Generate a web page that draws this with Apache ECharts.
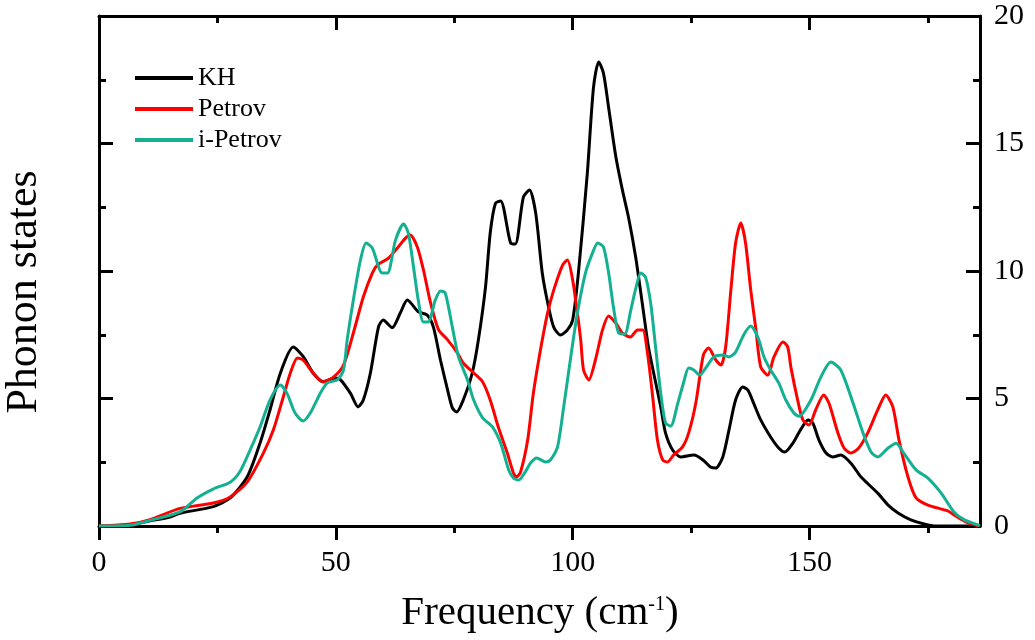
<!DOCTYPE html>
<html><head><meta charset="utf-8">
<script src="https://cdn.jsdelivr.net/npm/echarts@6/dist/echarts.min.js"></script>
<style>html,body{margin:0;padding:0;background:#fff}#c{width:1035px;height:640px}</style>
</head><body><div id="c"></div>
<script>
// ---- data ----
const khX = [0,6.6,10.8,15.0,17.1,24.1,27.7,31.3,34.0,36.1,38.3,41.0,43.1,45.2,47.3,49.9,50.9,53.1,54.7,55.8,57.3,59.0,60.0,61.9,63.6,65.1,67.4,69.3,70.6,72.1,73.6,74.6,75.5,76.9,78.8,80.1,81.6,82.6,83.7,84.8,86.9,87.9,89.6,90.9,92.2,93.6,94.9,96.0,97.4,98.9,100.0,101.2,103.1,104.4,105.5,106.5,107.6,109.1,110.5,111.8,113.3,114.8,116.0,117.1,118.6,119.6,121.1,122.8,125.6,127.5,129.1,130.2,131.7,133.0,134.4,135.9,137.0,138.2,139.7,141.8,143.5,144.8,146.5,148.2,149.7,150.7,152.0,153.5,154.9,156.6,158.7,160.9,164.4,166.6,168.7,171.4,174.2,176.7,186];
const khY = [0,0.05,0.2,0.35,0.5,0.76,1.1,1.93,3.25,4.55,6.0,7.02,6.65,6.0,5.66,5.8,5.75,5.2,4.67,4.94,6.0,7.8,8.08,7.78,8.35,8.86,8.4,8.27,7.8,6.5,5.33,4.63,4.47,4.94,6.0,7.3,9.37,11.5,12.66,12.75,11.1,11.06,12.9,13.18,12.27,9.9,8.6,7.8,7.49,7.69,8.08,9.9,13.84,17.2,18.2,17.76,16.4,14.5,13.18,12.1,10.55,8.6,7.02,6.0,4.67,3.65,2.98,2.71,2.78,2.59,2.31,2.27,2.71,3.76,4.94,5.45,5.33,4.82,4.16,3.49,3.06,2.9,3.25,3.8,4.16,4.04,3.37,2.86,2.71,2.78,2.47,1.92,1.29,0.82,0.51,0.24,0.08,0,0];

const petrovX = [0,6.6,10.8,17.1,24.1,27.7,31.3,34.7,36.8,38.9,40.4,41.9,43.1,45.2,47.3,49.5,51.6,53.7,55.8,57.7,58.8,61.1,63.0,64.7,65.7,67.2,68.5,70.0,71.7,73.6,75.7,76.9,79.1,81.0,82.6,84.3,86.2,87.5,88.1,89.0,90.5,91.7,93.2,94.7,96.0,97.9,98.9,100.0,101.0,101.7,102.3,103.4,104.8,106.3,107.6,109.1,110.5,112.2,113.7,114.8,115.8,116.9,117.9,119.0,120.0,121.3,123.2,124.5,126.0,127.6,128.7,130.2,131.3,132.3,133.4,134.4,135.5,136.5,137.6,138.7,139.7,141.2,142.5,144.4,145.4,146.1,147.5,148.6,149.9,151.3,153.0,154.1,156.0,157.3,158.7,160.4,162.3,164.4,166.1,167.6,168.9,170.8,172.5,175.0,179.2,180.9,183.5,185.8];
const petrovY = [0,0.08,0.25,0.69,0.9,1.14,1.73,2.86,3.76,5.06,6.0,6.59,6.51,6.0,5.65,5.84,6.3,7.57,8.98,9.92,10.24,10.5,10.9,11.29,11.41,10.94,10.04,8.75,7.69,7.3,6.78,6.39,6.0,5.65,4.94,3.88,2.86,2.08,1.92,2.12,3.37,5.2,6.9,8.35,9.25,10.24,10.43,9.65,8.35,7.3,6.12,5.73,6.51,7.69,8.24,7.96,7.57,7.41,7.69,7.69,6.78,5.06,3.37,2.59,2.51,2.78,3.1,3.65,4.82,6.71,6.98,6.51,6.31,7.02,9.25,11.1,11.88,11.1,9.25,7.69,6.24,5.92,6.63,7.22,7.02,6.2,4.94,4.16,3.96,4.55,5.14,4.82,3.65,3.06,2.86,3.06,3.65,4.55,5.14,4.67,3.37,1.92,1.1,0.82,0.59,0.39,0.12,0];

const iPetrovX = [0,6.6,10.8,17.1,20.7,24.1,27.7,29.8,31.9,34.0,36.1,38.3,39.7,41.4,43.1,44.6,46.7,48.2,50.3,51.6,52.4,53.7,55.2,56.4,57.7,59.8,60.9,62.6,64.3,65.3,66.4,67.4,68.5,69.5,71.0,72.1,73.1,74.6,75.9,77.8,79.1,81.0,83.1,84.8,86.5,87.5,88.6,90.0,91.1,92.4,94.3,95.3,96.8,98.1,99.6,101.0,102.7,104.2,105.3,106.5,107.6,108.6,109.7,111.0,112.2,113.3,114.4,115.4,116.5,117.5,118.6,119.6,120.7,122.2,123.4,124.5,125.6,126.8,128.1,129.8,131.7,133.0,134.4,136.1,137.6,139.1,140.4,141.8,143.5,145.0,146.7,147.8,150.3,152.4,154.5,156.6,159.2,161.3,163.0,164.4,166.6,168.3,169.9,172.5,175.0,177.8,180.5,182.7,185.6,186];
const iPetrovY = [0,0.03,0.22,0.55,1.1,1.45,1.72,2.15,2.98,3.88,4.94,5.53,5.2,4.43,4.12,4.43,5.2,5.61,5.73,6.1,7.3,8.86,10.43,11.1,10.9,9.92,9.92,11.21,11.84,11.49,10.16,8.86,8.0,8.0,8.86,9.22,9.14,7.8,6.63,5.73,4.94,4.24,3.88,3.25,2.2,1.88,1.8,2.12,2.47,2.67,2.51,2.59,3.1,4.67,6.63,8.35,9.92,10.71,11.1,10.94,9.92,8.6,7.57,7.53,8.4,9.3,9.92,9.75,8.7,7.02,5.2,4.04,3.92,4.82,5.61,6.2,6.12,5.92,6.2,6.63,6.71,6.63,6.82,7.49,7.84,7.41,6.63,6.12,5.61,4.94,4.43,4.3,4.94,5.84,6.43,6.12,4.82,3.65,2.9,2.71,3.06,3.25,2.86,2.2,1.88,1.29,0.55,0.24,0.04,0];

const seriesNames = ['KH', 'Petrov', 'i-Petrov'];
const xMajorTicks = [0, 50, 100, 150];
const xMinorTicks = [25, 75, 125, 175];
const yTickLabels = [0, 5, 10, 15, 20];
// -------------------------------------

const FONT = 'Liberation Serif';
const XMIN = 0, XMAX = 186, YMIN = 0, YMAX = 20;
function pairs(xs, ys) { return xs.map((x, i) => [x, ys[i]]); }

function xAx(pos, vals, len, inside, withLabels, showLine) {
  return {
    type: 'value', min: XMIN, max: XMAX, position: pos,
    axisLine: { show: showLine, onZero: false, lineStyle: { color: '#000', width: 3 } },
    axisTick: { show: true, customValues: vals, length: len, inside: inside, lineStyle: { color: '#000', width: 3 } },
    axisLabel: withLabels ? { show: true, customValues: vals, fontSize: 30, fontFamily: FONT, color: '#000', margin: 22 } : { show: false },
    splitLine: { show: false }
  };
}
function yAx(pos, withLabels) {
  return {
    type: 'value', min: YMIN, max: YMAX, interval: yTickLabels[1] - yTickLabels[0], position: pos,
    axisLine: { show: true, onZero: false, lineStyle: { color: '#000', width: 3 } },
    axisTick: { show: true, inside: true, length: 14, lineStyle: { color: '#000', width: 3 } },
    minorTick: { show: true, splitNumber: 2, length: 7, lineStyle: { color: '#000', width: 3 } },
    axisLabel: withLabels ? { show: true, fontSize: 30, fontFamily: FONT, color: '#000', margin: 14 } : { show: false },
    splitLine: { show: false }, minorSplitLine: { show: false }
  };
}

const colors = ['#000000', '#ff0000', '#14b092'];
const datas = [pairs(khX, khY), pairs(petrovX, petrovY), pairs(iPetrovX, iPetrovY)];

const chart = echarts.init(document.getElementById('c'), null, { renderer: 'canvas' });
chart.setOption({
  backgroundColor: '#fff',
  animation: false,
  grid: { left: 99, right: 55, top: 16, bottom: 114, containLabel: false },
  xAxis: [
    xAx('bottom', xMajorTicks, 14, false, true, true),
    xAx('top', xMajorTicks, 14, true, false, true),
    xAx('bottom', xMinorTicks, 7, false, false, false),
    xAx('top', xMinorTicks, 7, true, false, false)
  ],
  yAxis: [yAx('left', false), yAx('right', true)],
  legend: {
    orient: 'vertical', left: 135, top: 65, padding: 0, itemWidth: 58, itemHeight: 4, itemGap: 5,
    icon: 'rect', selectedMode: false,
    textStyle: { fontSize: 26, fontFamily: FONT, color: '#000', lineHeight: 26 },
    data: seriesNames
  },
  series: seriesNames.map((n, i) => ({
    name: n, type: 'line', xAxisIndex: 0, yAxisIndex: 0,
    data: datas[i], showSymbol: false, smooth: 0.25,
    lineStyle: { color: colors[i], width: 3 }, itemStyle: { color: colors[i] },
    z: 2 + i
  })),
  graphic: [
    { type: 'text', x: 540, y: 613, style: {
        text: '{a|Frequency (cm}{s|-1}{a|)}',
        rich: { a: { fontSize: 41, fontFamily: FONT, fill: '#000' },
                s: { fontSize: 20, fontFamily: FONT, fill: '#000', verticalAlign: 'top', padding: [2, 0, 0, 0] } },
        align: 'center', verticalAlign: 'middle', fill: '#000' } },
    { type: 'text', x: 24, y: 292, rotation: Math.PI / 2, style: {
        text: 'Phonon states', fontSize: 44, fontFamily: FONT, fill: '#000',
        align: 'center', verticalAlign: 'middle' } }
  ]
});
</script></body></html>
